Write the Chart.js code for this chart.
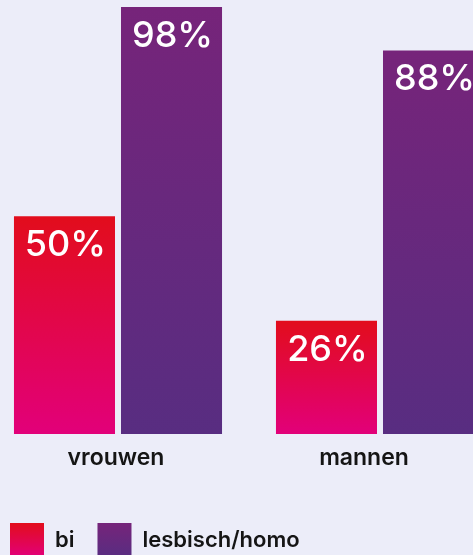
<!DOCTYPE html>
<html>
<head>
<meta charset="utf-8">
<script src="https://cdn.jsdelivr.net/npm/chart.js@4.4.1/dist/chart.umd.min.js"></script>
<style>
    html, body { margin: 0; padding: 0; background: #ecedf9; overflow: hidden; }
    body { width: 473px; height: 555px; position: relative; }
    #wrap { position: absolute; left: -13px; top: 0; width: 524px; height: 567px; }
</style>
</head>
<body>
<div id="wrap"><canvas id="chart"></canvas></div>
<script>
const categories = ['vrouwen', 'mannen'];
const seriesNames = ['bi', 'lesbisch/homo'];
const biValues = [50, 26];
const homoValues = [98, 88];

const biColors = ['#e20d1c', '#e2007a'];
const homoColors = ['#76247a', '#582d81'];
const FONT = 'Inter, "Open Sans", sans-serif';

// gradient from top of each bar down to the baseline
function barGradient(colors) {
    return function (context) {
        const chart = context.chart;
        if (!chart.chartArea || context.type !== 'data') return colors[0];
        const y = chart.scales.y;
        const top = y.getPixelForValue(context.raw);
        const bottom = y.getPixelForValue(0);
        const g = chart.ctx.createLinearGradient(0, top, 0, bottom);
        g.addColorStop(0, colors[0]);
        g.addColorStop(1, colors[1]);
        return g;
    };
}

const valueLabels = {
    id: 'valueLabels',
    afterDatasetsDraw(chart) {
        const c = chart.ctx;
        c.save();
        c.fillStyle = '#ffffff';
        c.font = '500 36px ' + FONT;
        c.textAlign = 'center';
        c.textBaseline = 'middle';
        chart.data.datasets.forEach((ds, i) => {
            chart.getDatasetMeta(i).data.forEach((bar, j) => {
                c.fillText(ds.data[j] + '%', bar.x + 1, bar.y + 29);
            });
        });
        c.restore();
    }
};

// category names under the bars (the second one sits a bit left of its group)
const labelShift = [-2, -16];
const categoryLabels = {
    id: 'categoryLabels',
    afterDraw(chart) {
        const x = chart.scales.x;
        const c = chart.ctx;
        c.save();
        c.fillStyle = '#151515';
        c.font = '600 23px ' + FONT;
        c.textAlign = 'center';
        c.textBaseline = 'middle';
        chart.data.labels.forEach((label, i) => {
            c.fillText(label, x.getPixelForTick(i) + labelShift[i], chart.chartArea.bottom + 24);
        });
        c.restore();
    }
};

const chart = new Chart(document.getElementById('chart'), {
    type: 'bar',
    data: {
        labels: categories,
        datasets: [
            { label: seriesNames[0], data: biValues, backgroundColor: barGradient(biColors), legendColors: biColors },
            { label: seriesNames[1], data: homoValues, backgroundColor: barGradient(homoColors), legendColors: homoColors }
        ]
    },
    options: {
        responsive: true,
        maintainAspectRatio: false,
        animation: false,
        layout: { padding: 0 },
        categoryPercentage: 0.817,
        barPercentage: 0.944,
        scales: {
            x: {
                grid: { display: false, drawTicks: false },
                border: { display: false },
                ticks: { display: false },
                afterFit: (scale) => { scale.height = 66; }
            },
            y: {
                display: false,
                min: 0,
                max: 99.6
            }
        },
        plugins: {
            tooltip: { enabled: false },
            legend: {
                position: 'bottom',
                align: 'start',
                labels: {
                    boxWidth: 34,
                    boxHeight: 34,
                    padding: 23,
                    color: '#151515',
                    font: { family: FONT, size: 22, weight: '600' },
                    generateLabels: function (chart) {
                        const lg = chart.legend;
                        const top = (lg && lg.top ? lg.top : 501) + 23;
                        return chart.data.datasets.map((ds, i) => {
                            const g = chart.ctx.createLinearGradient(0, top, 0, top + 34);
                            g.addColorStop(0, ds.legendColors[0]);
                            g.addColorStop(1, ds.legendColors[1]);
                            return {
                                text: ds.label,
                                fillStyle: g,
                                strokeStyle: 'transparent',
                                lineWidth: 0,
                                fontColor: '#151515',
                                datasetIndex: i,
                                hidden: false
                            };
                        });
                    }
                }
            }
        }
    },
    plugins: [valueLabels, categoryLabels]
});
chart.update('none');
</script>
</body>
</html>
